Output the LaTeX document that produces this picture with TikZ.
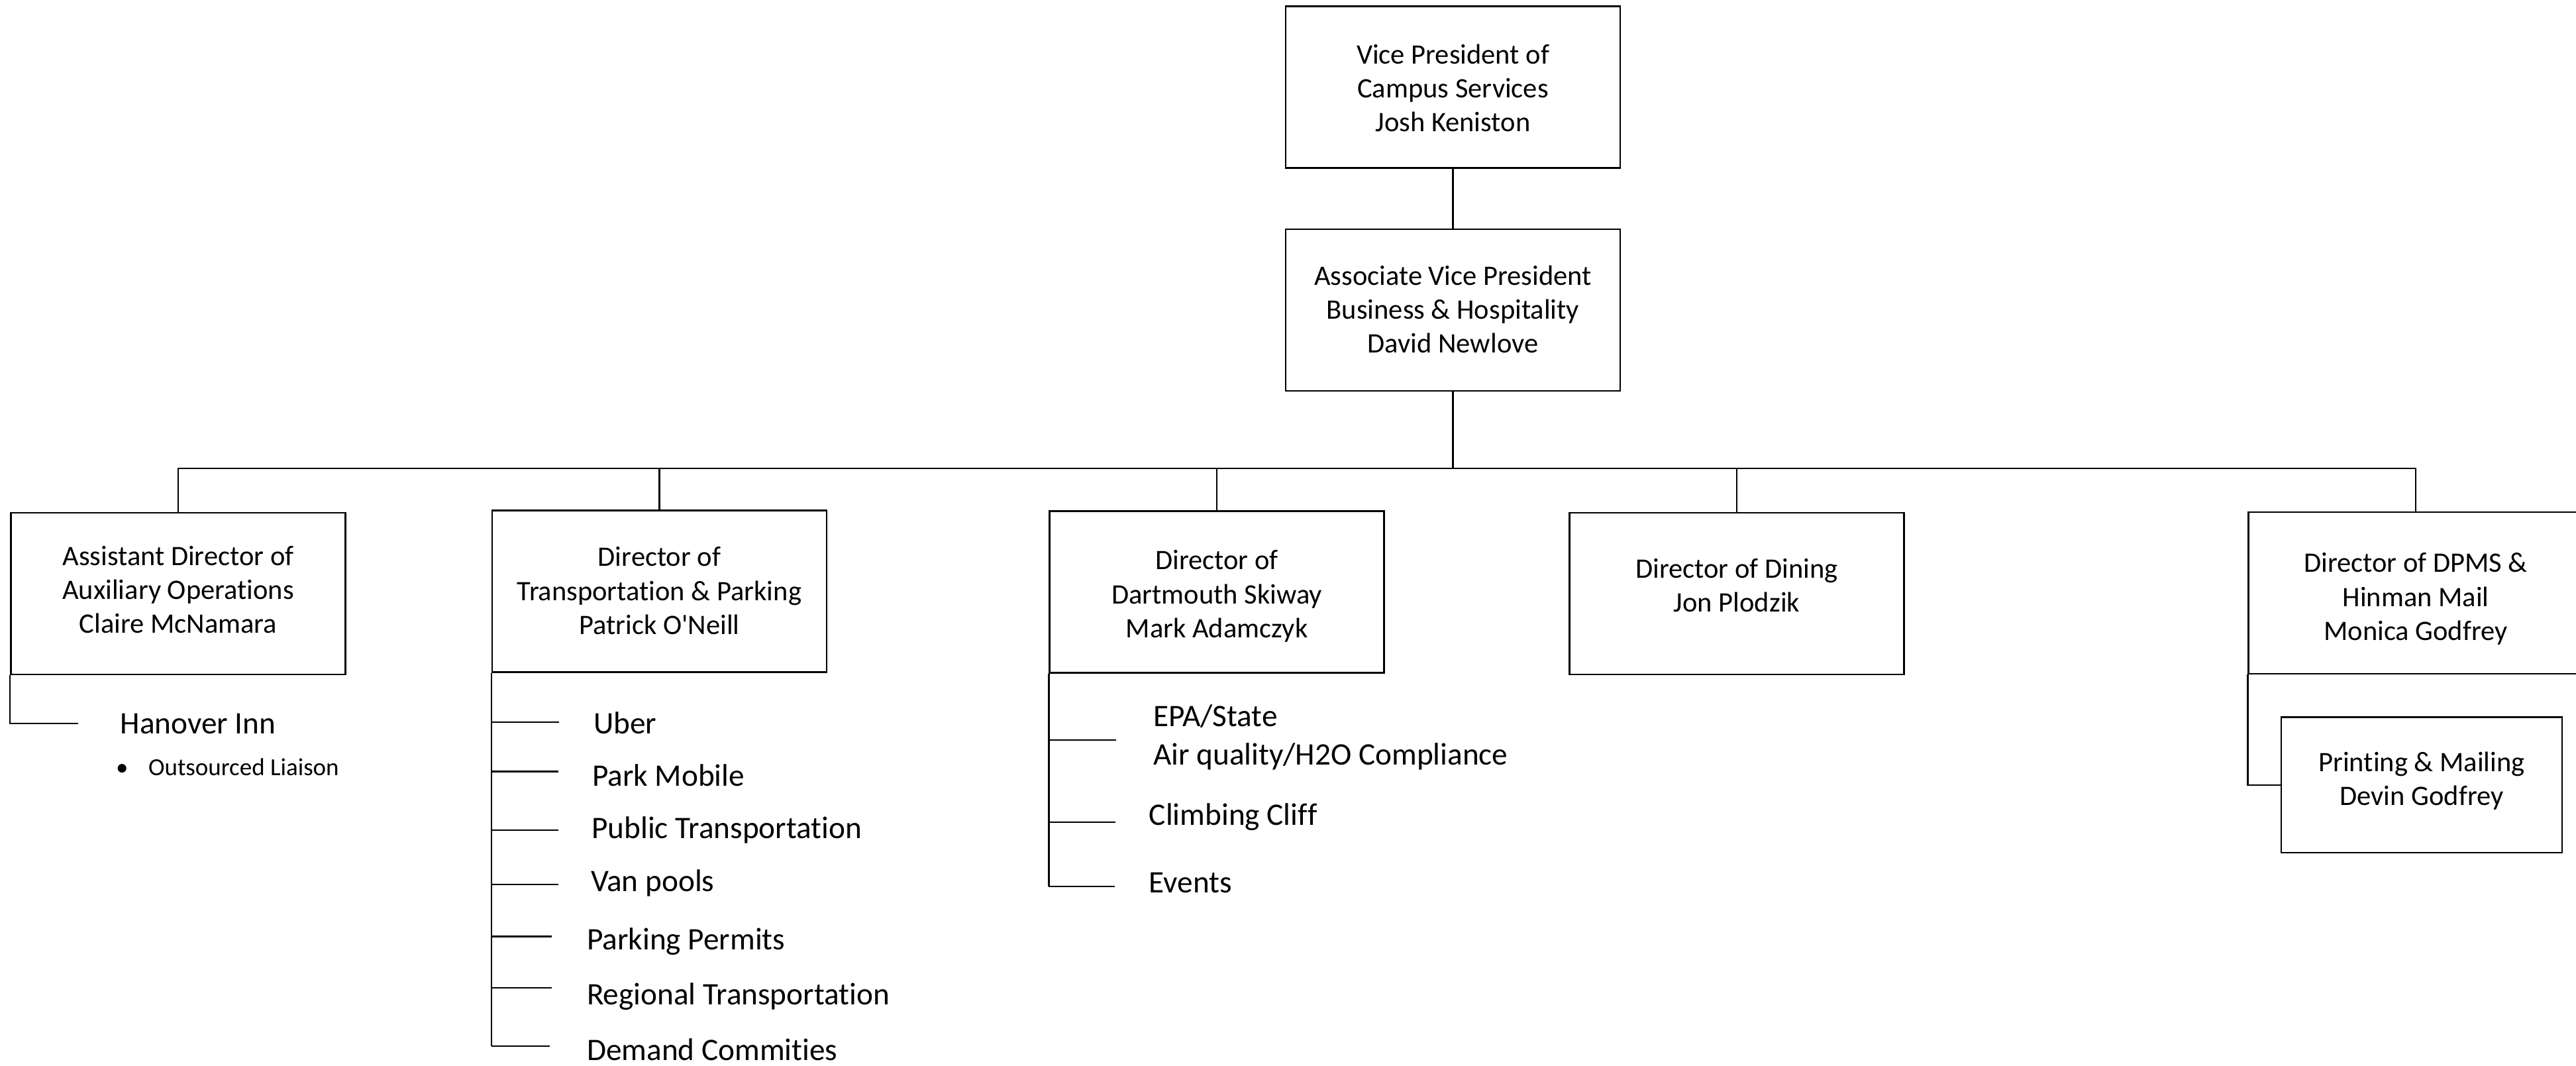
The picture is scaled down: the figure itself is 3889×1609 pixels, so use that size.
\documentclass[tikz,border=0pt]{standalone}
\usepackage{fontspec}
\setmainfont{Carlito}[RawFeature={-liga,-dlig,-clig,-calt,-rlig,-hlig}]
\newcommand\boxlines[1]{\begin{tabular}[t]{@{}c@{}}#1\end{tabular}}
\newcommand\leftlines[1]{\begin{tabular}[t]{@{}l@{}}#1\end{tabular}}
\newcommand\nolig{\kern0pt{}}
\begin{document}
\begin{tikzpicture}[x=0.2pt,y=-0.2pt,line width=0.45pt,
  box/.style={draw,line width=0.45pt,inner sep=0pt,minimum width=101pt,minimum height=48.8pt,
    text height=0pt,text depth=#1,font=\fontsize{8.5}{10.2}\selectfont},
  item/.style={anchor=base west,inner sep=0pt,font=\fontsize{9.45}{11.6}\selectfont},
  small/.style={anchor=base west,inner sep=0pt,font=\fontsize{7.4}{9}\selectfont},
  link/.style={draw,line width=0.45pt}]
\useasboundingbox (0,0) rectangle (3889,1609);
\clip (0,0) rectangle (3889,1609);
\fill[white] (0,0) rectangle (3889,1609);

% boxes
\node[box=13.8pt] (vp) at (2193.5,131.5) {\boxlines{Vice President of\\Campus Services\\Josh Keniston}};
\node[box=14.8pt] (avp) at (2193.5,468) {\boxlines{Associate Vice President\\Business \& Hospitality\\David Newlove}};
\coordinate (bus) at (0,707);
\node[box=17pt] (aux) at (269,896) {\boxlines{Assistant Director of\\Auxiliary Operat\nolig ions\\Claire McNamara}};
\node[box=15pt] (trans) at (995.5,892.5) {\boxlines{Director of\\Transportat\nolig ion \& Parking\\Patrick O\textquotesingle Neill}};
\node[box=13.4pt] (ski) at (1837,893.5) {\boxlines{Director of\\Dartmouth Skiway\\Mark Adamczyk}};
\node[box=9.3pt] (dine) at (2622,896) {\boxlines{Director of Dining\\Jon Plodzik}};
\node[box=12.4pt] (dpms) at (3647,895) {\boxlines{Director of DPMS \&\\Hinman Mail\\Monica Godfrey}};
\node[box=8pt,minimum width=84.8pt,minimum height=40.9pt] (print) at (3656,1184.8) {\boxlines{Printing \& Mailing\\Devin Godfrey}};

% tree connectors
\draw[link] (vp.south) -- (avp.north);
\draw[link] (avp.south) -- (avp.south |- bus);
\draw[link] (aux.north) -- (aux.north |- bus) -- (dpms.north |- bus) -- (dpms.north);
\draw[link] (trans.north) -- (trans.north |- bus);
\draw[link] (ski.north) -- (ski.north |- bus);
\draw[link] (dine.north) -- (dine.north |- bus);
\draw[link] (dpms.south west) |- (print.west);

% auxiliary operations
\coordinate (a1) at (118,1092);
\draw[link] (aux.south west) |- (a1);
\node[item] (hanover) at (180.7,1107.7) {Hanover Inn};
\node[small] (liaison) at (174,1170) {\makebox[9.8pt][l]{•}Outsourced Liaison};

% transportation
\coordinate (t1) at (844,1090.3);
\coordinate (t2) at (843,1164.6);
\coordinate (t3) at (843,1252.8);
\coordinate (t4) at (843,1334.8);
\coordinate (t5) at (833,1413.5);
\coordinate (t6) at (833,1491.1);
\coordinate (t7) at (830,1578.7);
\draw[link] (trans.south west) -- (trans.south west |- t7);
\foreach \c in {t1,t2,t3,t4,t5,t6,t7} \draw[link] (trans.south west |- \c) -- (\c);
\node[item] (uber) at (895,1107) {Uber};
\node[item] (park) at (893,1186.2) {Park Mobile};
\node[item] (public) at (892,1265) {Public Transportat\nolig ion};
\node[item] (van) at (891,1345.3) {Van pools};
\node[item] (permits) at (885,1433) {Parking Permits};
\node[item] (regional) at (885,1516.5) {Regional Transportat\nolig ion};
\node[item] (demand) at (885,1600) {Demand Commit\nolig ies};

% skiway
\coordinate (s1) at (1685,1117.3);
\coordinate (s2) at (1684,1240.8);
\coordinate (s3) at (1683,1337.9);
\draw[link] (ski.south west) -- (ski.south west |- s3);
\foreach \c in {s1,s2,s3} \draw[link] (ski.south west |- \c) -- (\c);
\node[item] (epa) at (1740,1096.5) {\leftlines{EPA/State\\Air quality/H2O Compliance}};
\node[item] (cliff) at (1733.7,1245.8) {Climbing Clif\nolig f};
\node[item] (events) at (1733.7,1347.4) {Events};
\end{tikzpicture}
\end{document}
